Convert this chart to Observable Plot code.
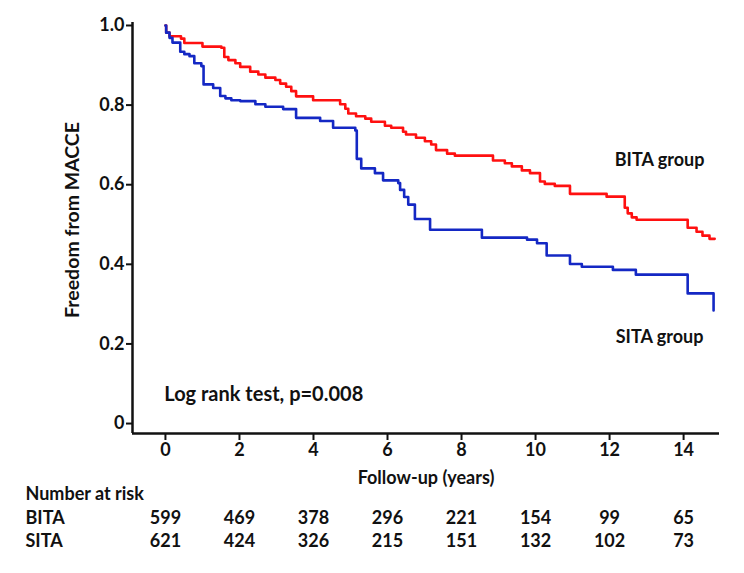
<!DOCTYPE html>
<html>
<head>
<meta charset="utf-8">
<script src="https://cdn.jsdelivr.net/npm/d3@7"></script>
<script src="https://cdn.jsdelivr.net/npm/@observablehq/plot@0.6"></script>
<style>
  html, body { margin: 0; padding: 0; background: #fff; }
  #chart svg { display: block; }
</style>
</head>
<body>
<div id="chart"></div>
<script>
// Kaplan–Meier step data (time in years, freedom from MACCE)
const bitaTime = [0, 0.02, 0.11, 0.42, 0.51, 1.00, 1.51, 1.59, 1.70, 1.89, 2.02, 2.29, 2.51, 2.70, 2.97, 3.10, 3.26, 3.40, 3.53, 3.99, 4.72, 4.86, 4.94, 5.15, 5.40, 5.56, 5.93, 6.10, 6.42, 6.50, 6.77, 7.01, 7.18, 7.31, 7.61, 7.82, 8.85, 9.17, 9.36, 9.63, 9.85, 10.12, 10.25, 10.52, 10.93, 11.92, 12.41, 12.49, 12.60, 12.73, 14.11, 14.35, 14.51, 14.70, 14.84];
const bitaSurv = [1.0, 0.982, 0.973, 0.967, 0.956, 0.947, 0.944, 0.921, 0.913, 0.905, 0.896, 0.884, 0.877, 0.869, 0.863, 0.854, 0.846, 0.835, 0.822, 0.812, 0.802, 0.791, 0.779, 0.772, 0.766, 0.758, 0.748, 0.743, 0.733, 0.726, 0.718, 0.709, 0.701, 0.687, 0.678, 0.673, 0.661, 0.654, 0.646, 0.636, 0.629, 0.608, 0.602, 0.597, 0.577, 0.570, 0.542, 0.528, 0.518, 0.512, 0.492, 0.482, 0.472, 0.464, 0.464];

const sitaTime = [0, 0.02, 0.11, 0.19, 0.40, 0.51, 0.65, 0.78, 0.97, 1.03, 1.29, 1.48, 1.62, 1.78, 2.02, 2.43, 2.70, 3.18, 3.53, 4.18, 4.53, 5.13, 5.17, 5.29, 5.66, 5.88, 6.29, 6.34, 6.45, 6.56, 6.74, 7.15, 8.55, 9.77, 10.04, 10.30, 10.93, 11.25, 12.09, 12.71, 14.11, 14.81];
const sitaSurv = [1.0, 0.982, 0.969, 0.957, 0.934, 0.928, 0.923, 0.905, 0.898, 0.852, 0.843, 0.823, 0.817, 0.812, 0.810, 0.802, 0.796, 0.790, 0.768, 0.760, 0.743, 0.736, 0.665, 0.641, 0.629, 0.611, 0.604, 0.587, 0.569, 0.550, 0.514, 0.487, 0.467, 0.462, 0.453, 0.422, 0.401, 0.394, 0.386, 0.374, 0.327, 0.284];

// Axis ticks and number at risk
const xTicks = [0, 2, 4, 6, 8, 10, 12, 14];
const yTicks = [0, 0.2, 0.4, 0.6, 0.8, 1.0];
const riskYears = [0, 2, 4, 6, 8, 10, 12, 14];
const bitaRisk = [599, 469, 378, 296, 221, 154, 99, 65];
const sitaRisk = [621, 424, 326, 215, 151, 132, 102, 73];

// Annotations
const groupLabels = [
  {text: "BITA group", t: 13.35, s: 0.661},
  {text: "SITA group", t: 13.35, s: 0.216}
];
const testLabel = [{text: "Log rank test, p=0.008", t: -0.03, s: 0.073}];

const xDomain = [-0.89, 14.97];
const yDomain = [-0.025, 1.0075];

const bita = bitaTime.map((t, i) => ({t, s: bitaSurv[i]}));
const sita = sitaTime.map((t, i) => ({t, s: sitaSurv[i]}));
const bitaRows = riskYears.map((t, i) => ({t, n: bitaRisk[i]}));
const sitaRows = riskYears.map((t, i) => ({t, n: sitaRisk[i]}));

const RED = "#ff1010";
const BLUE = "#1428c4";
const INK = "#111";
const FONT = "Lato, 'Open Sans', sans-serif";
const fs = 18;

const txt = (extra) => Object.assign({fontSize: fs, fontWeight: "bold", fill: INK, lineAnchor: "middle"}, extra);

const chart = Plot.plot({
  width: 744,
  height: 573,
  marginLeft: 132,
  marginRight: 25,
  marginTop: 22,
  marginBottom: 140,
  style: {fontFamily: FONT, fontWeight: "bold", fontSize: fs + "px", color: INK, background: "#fff"},
  x: {domain: xDomain},
  y: {domain: yDomain},
  marks: [
    Plot.axisX({ticks: xTicks, tickSize: 7, tickPadding: 3, strokeWidth: 2, fontSize: fs, fontWeight: "bold", label: null}),
    Plot.axisY({ticks: yTicks, tickSize: 6, tickPadding: 2, strokeWidth: 2, fontSize: fs, fontWeight: "bold", label: null,
      tickFormat: d => d === 0 ? "0" : d.toFixed(1)}),
    Plot.ruleX([xDomain[0]], {stroke: INK, strokeWidth: 2.5}),
    Plot.ruleY([yDomain[0]], {stroke: INK, strokeWidth: 2.5}),
    Plot.line(bita, {x: "t", y: "s", curve: "step-after", stroke: RED, strokeWidth: 2.6}),
    Plot.line(sita, {x: "t", y: "s", curve: "step-after", stroke: BLUE, strokeWidth: 2.6}),
    Plot.text(groupLabels, txt({x: "t", y: "s", text: "text", fontSize: 18})),
    Plot.text(testLabel, txt({x: "t", y: "s", text: "text", textAnchor: "start", fontSize: 20})),
    Plot.text(["Freedom from MACCE"], txt({frameAnchor: "left", rotate: -90, dx: -60, dy: -8, textAnchor: "middle", fontSize: 19.5})),
    Plot.text(["Follow-up (years)"], txt({frameAnchor: "bottom", dy: 45, textAnchor: "middle"})),
    Plot.text(["Number at risk"], txt({frameAnchor: "bottom-left", dx: -107, dy: 61, textAnchor: "start"})),
    Plot.text(["BITA"], txt({frameAnchor: "bottom-left", dx: -107, dy: 85, textAnchor: "start"})),
    Plot.text(["SITA"], txt({frameAnchor: "bottom-left", dx: -107, dy: 108, textAnchor: "start"})),
    Plot.text(bitaRows, txt({x: "t", text: "n", frameAnchor: "bottom", dy: 85, textAnchor: "middle"})),
    Plot.text(sitaRows, txt({x: "t", text: "n", frameAnchor: "bottom", dy: 108, textAnchor: "middle"}))
  ]
});
document.getElementById("chart").appendChild(chart);
</script>
</body>
</html>
